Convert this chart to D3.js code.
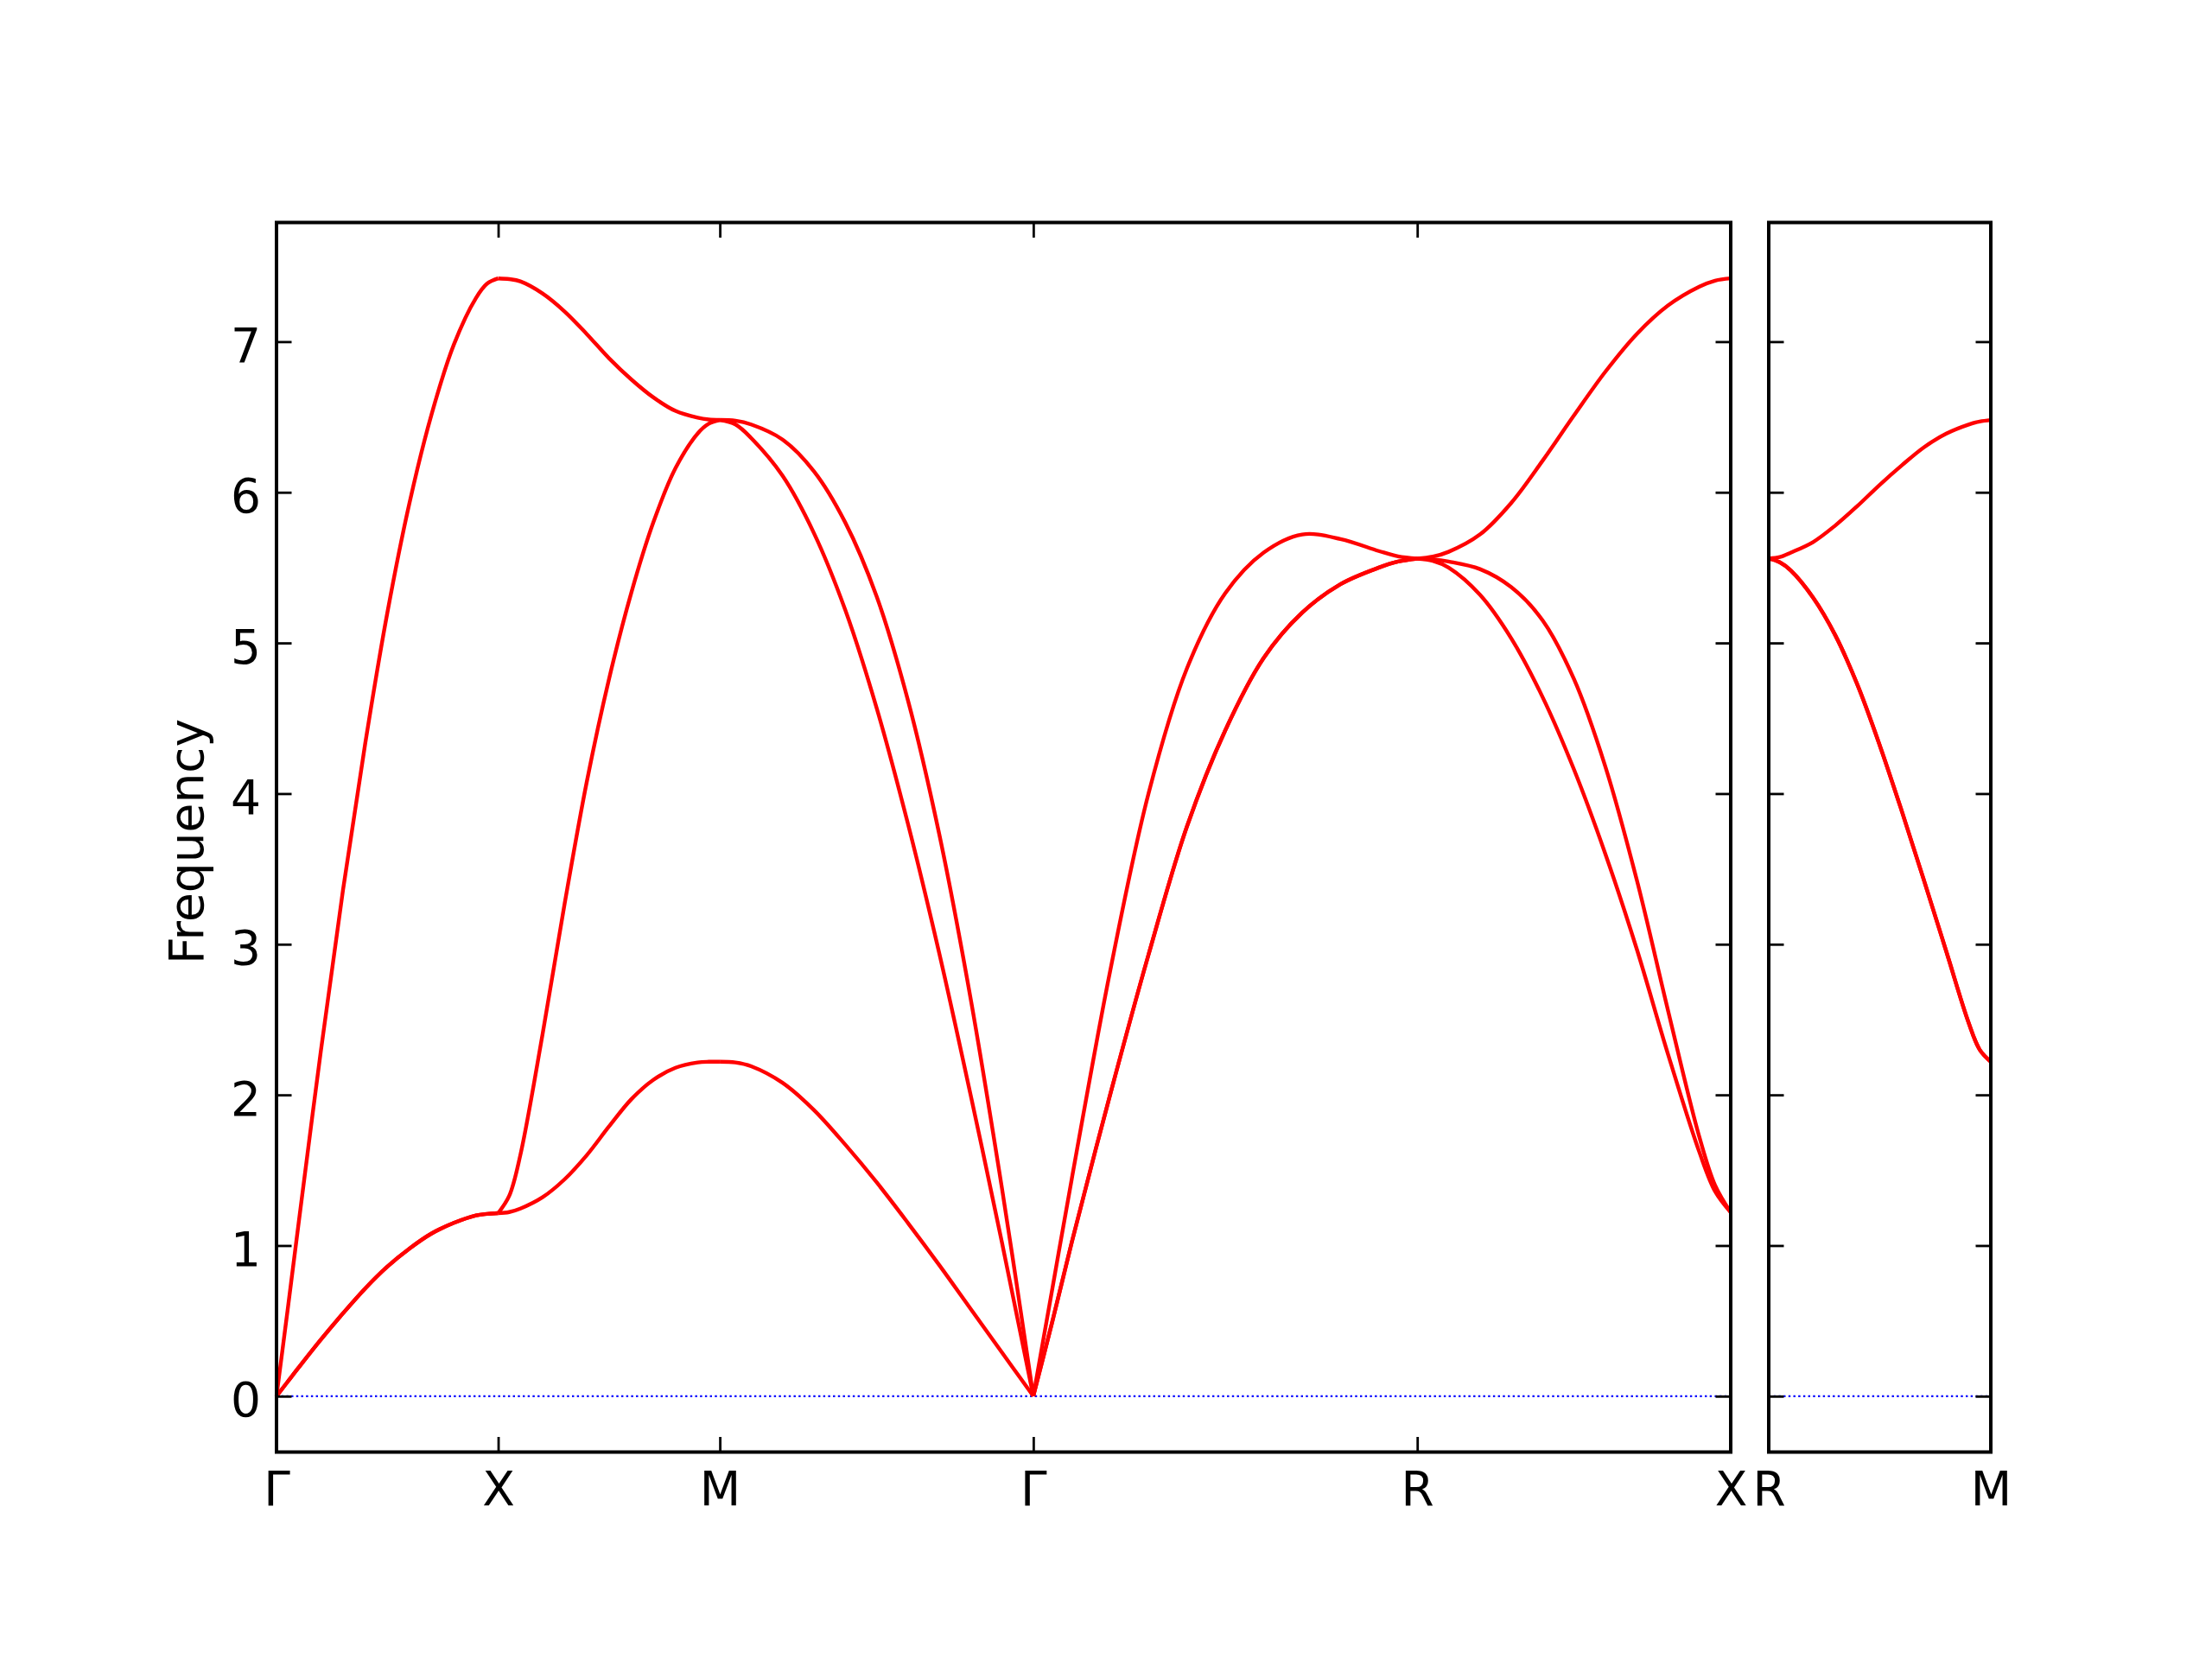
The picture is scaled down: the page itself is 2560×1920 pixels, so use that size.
<!DOCTYPE html>
<html>
<head>
<meta charset="utf-8">
<script src="https://cdn.jsdelivr.net/npm/d3@7"></script>
<style>
  html, body { margin: 0; padding: 0; background: #ffffff; }
  svg { display: block; }
</style>
</head>
<body>
<svg id="chart" width="2560" height="1920"></svg>
<script>
// ---------------- data ----------------
const leftTickLabels = ["Γ", "X", "M", "Γ", "R", "X"];
const rightTickLabels = ["R", "M"];
const segLengths = [0.5, 0.5, 0.7071, 0.8660, 0.7071];   // Γ-X, X-M, M-Γ, Γ-R, R-X
const rightSegLengths = [0.5];                            // R-M
const yTicks = [0, 1, 2, 3, 4, 5, 6, 7];
const yLabel = "Frequency";
const qFrac = [0, 0.05, 0.1, 0.2, 0.3, 0.4, 0.5, 0.6, 0.7, 0.8, 0.9, 0.95, 1];

// Γ-X
const GX_b1 = [0, 0.095, 0.19, 0.375, 0.55, 0.715, 0.86, 0.98, 1.08, 1.15, 1.2, 1.21, 1.215];
const GX_b2 = [0, 0.095, 0.19, 0.375, 0.55, 0.715, 0.86, 0.98, 1.08, 1.15, 1.2, 1.21, 1.215];
const GX_b3 = [0, 0.57, 1.15, 2.29, 3.36, 4.33, 5.2, 5.93, 6.52, 6.98, 7.29, 7.385, 7.42];
// X-M
const XM_b1 = [1.215, 1.222, 1.245, 1.32, 1.44, 1.6, 1.79, 1.97, 2.1, 2.18, 2.215, 2.22, 2.22];
const XM_b2 = [1.215, 1.33, 1.6, 2.4, 3.27, 4.08, 4.76, 5.33, 5.8, 6.16, 6.39, 6.455, 6.48];
const XM_b3 = [7.42, 7.415, 7.40, 7.32, 7.2, 7.05, 6.89, 6.75, 6.63, 6.54, 6.495, 6.483, 6.48];
// M-Γ
const MG_b1 = [2.22, 2.215, 2.19, 2.08, 1.9, 1.67, 1.42, 1.15, 0.87, 0.58, 0.29, 0.145, 0];
const MG_b2 = [6.48, 6.45, 6.36, 6.11, 5.73, 5.22, 4.57, 3.8, 2.94, 2.0, 1.02, 0.51, 0];
const MG_b3 = [6.48, 6.475, 6.45, 6.35, 6.14, 5.8, 5.31, 4.62, 3.73, 2.64, 1.38, 0.70, 0];
// Γ-R
const GR_b1 = [0, 0.5, 1.02, 2.0, 2.93, 3.78, 4.42, 4.9, 5.2, 5.39, 5.5, 5.54, 5.56];
const GR_b2 = [0, 0.5, 1.02, 2.0, 2.93, 3.78, 4.42, 4.9, 5.2, 5.39, 5.5, 5.54, 5.56];
const GR_b3 = [0, 0.72, 1.44, 2.82, 4.0, 4.83, 5.33, 5.6, 5.72, 5.69, 5.61, 5.575, 5.56];
// R-X
const RX_b1 = [5.56, 5.545, 5.5, 5.32, 5.03, 4.64, 4.16, 3.6, 2.97, 2.27, 1.62, 1.36, 1.22];
const RX_b2 = [5.56, 5.555, 5.54, 5.49, 5.37, 5.15, 4.76, 4.18, 3.43, 2.56, 1.72, 1.40, 1.22];
const RX_b3 = [5.56, 5.573, 5.605, 5.72, 5.93, 6.21, 6.51, 6.8, 7.05, 7.24, 7.365, 7.405, 7.42];
// R-M (right panel)
const RM_b1 = [5.56, 5.535, 5.48, 5.3, 5.05, 4.72, 4.32, 3.88, 3.42, 2.95, 2.48, 2.3, 2.22];
const RM_b2 = [5.56, 5.535, 5.48, 5.3, 5.05, 4.72, 4.32, 3.88, 3.42, 2.95, 2.48, 2.3, 2.22];
const RM_b3 = [5.56, 5.57, 5.6, 5.67, 5.78, 5.91, 6.05, 6.18, 6.3, 6.39, 6.45, 6.47, 6.48];

const leftSegments = [
  [GX_b1, GX_b2, GX_b3],
  [XM_b1, XM_b2, XM_b3],
  [MG_b1, MG_b2, MG_b3],
  [GR_b1, GR_b2, GR_b3],
  [RX_b1, RX_b2, RX_b3]
];
const rightSegments = [
  [RM_b1, RM_b2, RM_b3]
];

// ---------------- layout ----------------
const FONT = "'DejaVu Sans', sans-serif";
const FS = 55;
const TOP = 257.5, BOTTOM = 1680.5;
const panels = [
  { x0: 320, x1: 2003, lengths: segLengths, segs: leftSegments, labels: leftTickLabels, yLabels: true },
  { x0: 2047, x1: 2304, lengths: rightSegLengths, segs: rightSegments, labels: rightTickLabels, yLabels: false }
];

const svg = d3.select("#chart");
svg.append("rect").attr("width", 2560).attr("height", 1920).attr("fill", "#ffffff");

const y = d3.scaleLinear().domain([-0.371, 7.791]).range([BOTTOM, TOP]);
const TICK = 17.5;

panels.forEach(p => {
  const total = d3.sum(p.lengths);
  const x = d3.scaleLinear().domain([0, total]).range([p.x0, p.x1]);
  const offsets = [0].concat(Array.from(d3.cumsum(p.lengths)));
  const g = svg.append("g");

  // zero line
  g.append("line")
    .attr("x1", x(0)).attr("x2", x(total))
    .attr("y1", y(0)).attr("y2", y(0))
    .attr("stroke", "#0000ff").attr("stroke-width", 2.2)
    .attr("stroke-dasharray", "2.4 3.3");

  // bands
  const line = d3.line()
    .x(d => x(d[0])).y(d => y(d[1]))
    .curve(d3.curveCatmullRom.alpha(0.5));
  p.segs.forEach((bands, si) => {
    bands.forEach(vals => {
      const pts = vals.map((v, i) => [offsets[si] + qFrac[i] * p.lengths[si], v]);
      g.append("path")
        .attr("d", line(pts))
        .attr("fill", "none")
        .attr("stroke", "#ff0000")
        .attr("stroke-width", 4.4)
        .attr("stroke-linejoin", "round")
        .attr("stroke-linecap", "butt");
    });
  });

  // axes
  const styleAxis = (sel) => {
    sel.select(".domain").remove();
    sel.selectAll(".tick line").attr("stroke", "#000").attr("stroke-width", 2.8);
    sel.selectAll(".tick text")
      .attr("font-family", FONT).attr("font-size", FS).attr("fill", "#000");
  };

  const left = g.append("g").attr("transform", `translate(${p.x0},0)`)
    .call(d3.axisLeft(y).tickValues(yTicks).tickSizeInner(-TICK).tickSizeOuter(0)
      .tickPadding(18).tickFormat(p.yLabels ? d3.format("d") : () => ""));
  styleAxis(left);
  left.selectAll(".tick text").attr("dy", null).attr("y", 23);

  const right = g.append("g").attr("transform", `translate(${p.x1},0)`)
    .call(d3.axisRight(y).tickValues(yTicks).tickSizeInner(-TICK).tickSizeOuter(0).tickFormat(() => ""));
  styleAxis(right);

  const bottom = g.append("g").attr("transform", `translate(0,${BOTTOM})`)
    .call(d3.axisBottom(x).tickValues(offsets).tickSizeInner(-TICK).tickSizeOuter(0)
      .tickPadding(0).tickFormat((d, i) => p.labels[i]));
  styleAxis(bottom);
  bottom.selectAll(".tick text").attr("dy", null).attr("y", 61.5);

  const top = g.append("g").attr("transform", `translate(0,${TOP})`)
    .call(d3.axisTop(x).tickValues(offsets).tickSizeInner(-TICK).tickSizeOuter(0).tickFormat(() => ""));
  styleAxis(top);

  // frame
  g.append("rect")
    .attr("x", p.x0).attr("y", TOP)
    .attr("width", p.x1 - p.x0).attr("height", BOTTOM - TOP)
    .attr("fill", "none").attr("stroke", "#000").attr("stroke-width", 4);
});

// y label
svg.append("text")
  .attr("transform", `translate(235,${(TOP + BOTTOM) / 2 + 5}) rotate(-90)`)
  .attr("text-anchor", "middle")
  .attr("font-family", FONT).attr("font-size", FS).attr("fill", "#000")
  .text(yLabel);
</script>
</body>
</html>
